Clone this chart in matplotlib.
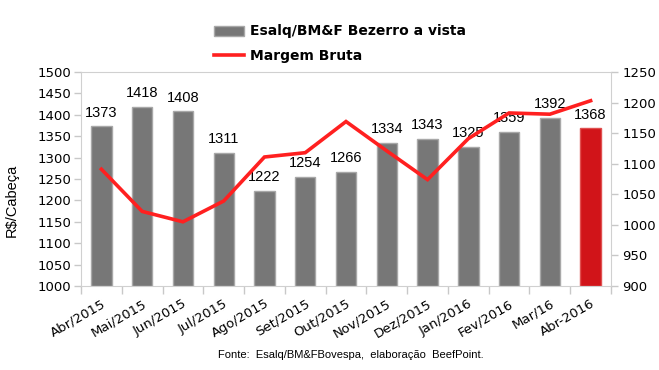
import matplotlib
matplotlib.use("Agg")
import matplotlib.pyplot as plt
import numpy as np

categories = ["Abr/2015", "Mai/2015", "Jun/2015", "Jul/2015", "Ago/2015", "Set/2015",
              "Out/2015", "Nov/2015", "Dez/2015", "Jan/2016", "Fev/2016", "Mar/16", "Abr-2016"]
bezerro = [1373, 1418, 1408, 1311, 1222, 1254, 1266, 1334, 1343, 1325, 1359, 1392, 1368]
margem = [1091, 1022, 1005, 1039, 1111, 1118, 1169, 1121, 1074, 1141, 1183, 1181, 1203]
left_ticks = list(range(1000, 1501, 50))
right_ticks = list(range(900, 1251, 50))

fig = plt.figure(figsize=(6.59, 3.70), dpi=100)
ax = fig.add_axes([81/659, 1-286/370, (611-81)/659, (286-72)/370])
x = np.arange(len(categories))
colors = ["#777777"] * (len(categories) - 1) + ["#d11419"]
edges = ["#a8a8a8"] * (len(categories) - 1) + ["#e05050"]
bars = ax.bar(x, [v - 1000 for v in bezerro], bottom=1000, width=0.5, color=colors,
              edgecolor=edges, linewidth=1.0, zorder=2, label="Esalq/BM&F Bezerro a vista")
for xi, v in zip(x, bezerro):
    ax.text(xi, v + 16, str(v), ha="center", va="bottom", fontsize=10.5,
            family="Liberation Sans", zorder=5)
ax.set_xlim(-0.5, len(categories) - 0.5)
ax.set_ylim(1000, 1500)
ax.set_yticks(left_ticks)
ax.set_yticklabels([str(t) for t in left_ticks], fontsize=9.5)
ax.set_xticks(x)
ax.set_xticklabels(categories, rotation=30, ha="right", rotation_mode="anchor", fontsize=9.5)
ax.set_xticks(np.arange(-0.5, len(categories), 1), minor=True)
ax.tick_params(axis="x", which="major", length=0, pad=8)
ax.tick_params(axis="x", which="minor", length=6, color="#c8c8c8", width=1)
ax.tick_params(axis="y", length=5, color="#c8c8c8", width=1, pad=2)
for s in ["left", "bottom", "top"]:
    ax.spines[s].set_color("#d0d0d0")
ax.spines["right"].set_visible(False)

fig.text(12/659, 1-200/370, "R$/Cabeça", rotation=90, ha="center", va="center",
         fontsize=10.5, family="Liberation Sans")

ax2 = ax.twinx()
line, = ax2.plot(x, margem, color="#ff2020", linewidth=2.6, zorder=4, label="Margem Bruta",
                 solid_joinstyle="miter")
ax2.set_ylim(900, 1250)
ax2.set_yticks(right_ticks)
ax2.set_yticklabels([str(t) for t in right_ticks], fontsize=9.5)
ax2.tick_params(axis="y", length=5, color="#c8c8c8", width=1, pad=3)
for s in ["left", "bottom", "top"]:
    ax2.spines[s].set_visible(False)
ax2.spines["right"].set_color("#d0d0d0")

leg = fig.legend(handles=[bars, line], labels=["Esalq/BM&F Bezerro a vista", "Margem Bruta"],
                 loc="upper left", bbox_to_anchor=(201/659, 1-12/370), frameon=False,
                 prop={"weight": "bold", "size": 10}, handlelength=2.2, handleheight=0.7,
                 labelspacing=0.75, handletextpad=0.45)

fig.text(351/659, 1-355/370, "Fonte:  Esalq/BM&FBovespa,  elaboração  BeefPoint.",
         ha="center", va="center", fontsize=8, family="Liberation Sans")

fig.savefig("out.png", dpi=100)
